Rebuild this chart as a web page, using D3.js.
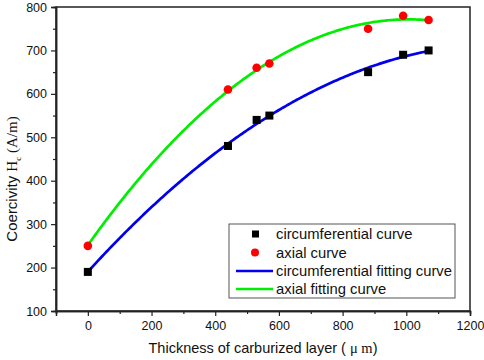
<!DOCTYPE html>
<html><head><meta charset="utf-8">
<script src="https://cdn.jsdelivr.net/npm/d3@7"></script>
<style>body{margin:0;background:#fff;}svg{display:block;}text{font-family:"Liberation Sans",Arial,sans-serif;}</style>
</head><body>
<script>
const thickness = [0, 440, 530, 570, 880, 990, 1070];
const circumferential = [190, 480, 540, 550, 650, 690, 700];
const axial = [250, 610, 660, 670, 750, 780, 770];
const xTicks = [0, 200, 400, 600, 800, 1000, 1200];
const yTicks = [100, 200, 300, 400, 500, 600, 700, 800];
const legendLabels = ["circumferential curve", "axial curve", "circumferential fitting curve", "axial fitting curve"];

const W = 484, H = 360;
const m = {left: 56, top: 7, right: 14, bottom: 49};
const svg = d3.select("body").append("svg").attr("width", W).attr("height", H);
const x = d3.scaleLinear().domain([-100, 1200]).range([m.left, W - m.right]);
const y = d3.scaleLinear().domain([100, 800]).range([H - m.bottom, m.top]);

// quadratic least squares fit
function quadFit(xs, ys) {
  let S = [[0,0,0],[0,0,0],[0,0,0]], B = [0,0,0];
  xs.forEach((xv, i) => {
    const p = [1, xv, xv*xv];
    for (let a = 0; a < 3; a++) { B[a] += p[a]*ys[i]; for (let b = 0; b < 3; b++) S[a][b] += p[a]*p[b]; }
  });
  const A = S.map((r, i) => r.concat([B[i]]));
  for (let c = 0; c < 3; c++) {
    let piv = c; for (let r = c+1; r < 3; r++) if (Math.abs(A[r][c]) > Math.abs(A[piv][c])) piv = r;
    [A[c], A[piv]] = [A[piv], A[c]];
    for (let r = 0; r < 3; r++) if (r !== c) { const f = A[r][c]/A[c][c]; for (let k = c; k < 4; k++) A[r][k] -= f*A[c][k]; }
  }
  const co = A.map((r, i) => r[3]/r[i]);
  return xv => co[0] + co[1]*xv + co[2]*xv*xv;
}
const fC = quadFit(thickness, circumferential);
const fA = quadFit(thickness, axial);
const xs = d3.range(0, 1070.1, 5);

// frame
svg.append("rect").attr("x", m.left).attr("y", m.top).attr("width", W - m.right - m.left).attr("height", H - m.bottom - m.top)
  .attr("fill", "none").attr("stroke", "#222").attr("stroke-width", 1.5);

// axes
const xAxis = d3.axisBottom(x).tickValues(xTicks).tickSize(5).tickPadding(5).tickFormat(d3.format("d"));
const yAxis = d3.axisLeft(y).tickValues(yTicks).tickSize(5).tickPadding(4).tickFormat(d3.format("d"));
svg.append("g").attr("transform", `translate(0,${H - m.bottom})`).call(xAxis);
svg.append("g").attr("transform", `translate(${m.left},0)`).call(yAxis);
// minor ticks
svg.append("g").attr("transform", `translate(0,${H - m.bottom})`)
  .call(d3.axisBottom(x).tickValues(d3.range(-100, 1200, 200)).tickSize(3).tickFormat(""));
svg.append("g").attr("transform", `translate(${m.left},0)`)
  .call(d3.axisLeft(y).tickValues(d3.range(150, 800, 100)).tickSize(3).tickFormat(""));
svg.selectAll(".domain").attr("stroke", "#222").attr("stroke-width", 1.5);
svg.selectAll(".tick line").attr("stroke", "#222").attr("stroke-width", 1.2);
svg.selectAll(".tick text").attr("font-size", 12.5).attr("fill", "#111").attr("font-family", "Liberation Sans, Arial, sans-serif");

// fitting curves
const line = f => d3.line().x(d => x(d)).y(d => y(f(d)));
svg.append("path").datum(xs).attr("d", line(fC)).attr("fill", "none").attr("stroke", "#0000ee").attr("stroke-width", 2.7);
svg.append("path").datum(xs).attr("d", line(fA)).attr("fill", "none").attr("stroke", "#00ee00").attr("stroke-width", 2.7);

// points
svg.append("g").selectAll("rect").data(thickness).join("rect")
  .attr("x", (d) => x(d) - 4).attr("y", (d, i) => y(circumferential[i]) - 4)
  .attr("width", 8).attr("height", 8).attr("fill", "#000");
svg.append("g").selectAll("circle").data(thickness).join("circle")
  .attr("cx", d => x(d)).attr("cy", (d, i) => y(axial[i])).attr("r", 4.3).attr("fill", "#ff0000");

// legend
const lg = svg.append("g");
lg.append("rect").attr("x", 229).attr("y", 224).attr("width", 226).attr("height", 74)
  .attr("fill", "#fff").attr("stroke", "#555").attr("stroke-width", 1);
const rowY = [234, 252.5, 271, 289];
legendLabels.forEach((t, i) => {
  const yy = rowY[i];
  if (i === 0) lg.append("rect").attr("x", 252).attr("y", yy - 3.5).attr("width", 7).attr("height", 7).attr("fill", "#000");
  if (i === 1) lg.append("circle").attr("cx", 255).attr("cy", yy).attr("r", 4).attr("fill", "#ff0000");
  if (i === 2) lg.append("line").attr("x1", 236).attr("x2", 273).attr("y1", yy).attr("y2", yy).attr("stroke", "#0000ee").attr("stroke-width", 2.7);
  if (i === 3) lg.append("line").attr("x1", 236).attr("x2", 273).attr("y1", yy).attr("y2", yy).attr("stroke", "#00ee00").attr("stroke-width", 2.7);
  lg.append("text").attr("x", 276).attr("y", yy).attr("dy", "0.36em").attr("font-size", 14.8).attr("fill", "#111").text(t);
});

// axis titles
const xt = svg.append("text").attr("x", 263).attr("y", 353).attr("text-anchor", "middle").attr("font-size", 14.5).attr("fill", "#111");
xt.append("tspan").text("Thickness of carburized layer ( ");
xt.append("tspan").attr("font-family", "Liberation Serif, serif").text("μ m");
xt.append("tspan").text(")");

const yt = svg.append("text").attr("transform", "translate(17,179) rotate(-90)").attr("text-anchor", "middle").attr("font-size", 15).attr("fill", "#111");
yt.append("tspan").text("Coercivity ");
yt.append("tspan").attr("font-family", "Liberation Serif, serif").text("H");
yt.append("tspan").attr("font-family", "Liberation Serif, serif").attr("font-size", 9).attr("dy", 4).text("c");
yt.append("tspan").attr("font-family", "Liberation Serif, serif").attr("dy", -4).text(" (A/m)");
</script>
</body></html>
